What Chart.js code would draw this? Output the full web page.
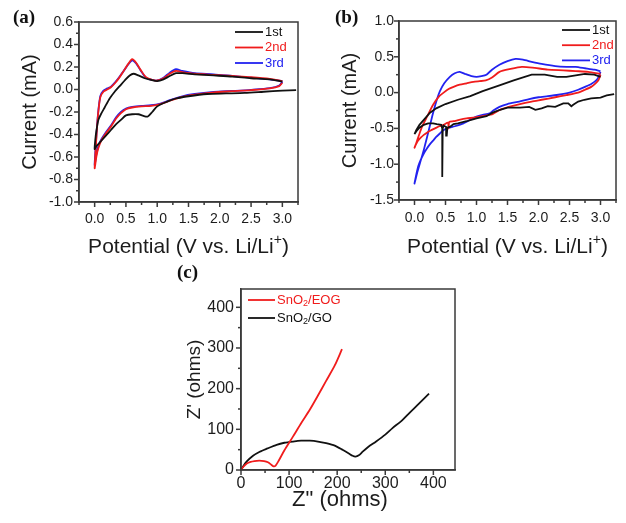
<!DOCTYPE html>
<html><head><meta charset="utf-8">
<script src="https://cdn.jsdelivr.net/npm/chart.js@4.4.1/dist/chart.umd.min.js"></script>
<style>
html,body{margin:0;padding:0;background:#fff;width:626px;height:523px;overflow:hidden;position:relative;}
canvas{position:absolute;}
.lbl{position:absolute;font:bold 19px "Liberation Serif","Times New Roman",serif;color:#111;line-height:22px;}
</style></head><body>
<canvas id="ca" width="313" height="265" style="left:0;top:0"></canvas>
<canvas id="cb" width="313" height="265" style="left:313px;top:0"></canvas>
<canvas id="cc" width="310" height="265" style="left:160px;top:258px"></canvas>
<div class="lbl" style="left:13px;top:6px">(a)</div>
<div class="lbl" style="left:335px;top:6px">(b)</div>
<div class="lbl" style="left:177px;top:261px">(c)</div>
<script>
// ---------- Panel (a): CV curves, potential (V) and current (mA) ----------
const A_1ST_V = [3.22,3.0,2.7,2.4,2.1,1.8,1.5,1.3,1.15,1.0,0.92,0.85,0.78,0.7,0.6,0.5,0.42,0.34,0.26,0.18,0.1,0.05,0.02,0.0,0.01,0.03,0.06,0.1,0.16,0.24,0.32,0.4,0.48,0.56,0.62,0.7,0.8,0.9,1.0,1.1,1.2,1.3,1.4,1.6,1.9,2.2,2.5,2.8,3.0];
const A_1ST_I = [-0.005,-0.01,-0.02,-0.03,-0.035,-0.04,-0.06,-0.08,-0.11,-0.15,-0.2,-0.24,-0.235,-0.22,-0.22,-0.23,-0.27,-0.31,-0.36,-0.41,-0.46,-0.49,-0.51,-0.53,-0.45,-0.36,-0.27,-0.22,-0.16,-0.08,-0.02,0.03,0.08,0.125,0.14,0.125,0.1,0.085,0.075,0.09,0.12,0.145,0.145,0.135,0.125,0.115,0.1,0.09,0.07];
const A_2ND_V = [3.0,2.95,2.8,2.5,2.2,1.9,1.6,1.4,1.2,1.05,0.9,0.75,0.6,0.5,0.42,0.34,0.26,0.18,0.11,0.06,0.03,0.0,0.02,0.05,0.09,0.14,0.2,0.26,0.33,0.4,0.47,0.54,0.6,0.66,0.74,0.82,0.92,1.0,1.1,1.2,1.3,1.4,1.6,1.9,2.2,2.5,2.8,3.0];
const A_2ND_I = [0.06,0.03,0.01,-0.005,-0.015,-0.025,-0.045,-0.065,-0.10,-0.13,-0.145,-0.15,-0.16,-0.175,-0.21,-0.26,-0.33,-0.39,-0.45,-0.52,-0.59,-0.70,-0.50,-0.25,-0.07,-0.02,0.0,0.02,0.06,0.11,0.17,0.23,0.27,0.24,0.17,0.11,0.085,0.08,0.10,0.14,0.165,0.155,0.14,0.13,0.12,0.11,0.095,0.075];
const A_3RD_V = [3.0,2.95,2.8,2.5,2.2,1.9,1.6,1.4,1.2,1.05,0.9,0.75,0.6,0.5,0.42,0.34,0.26,0.18,0.11,0.06,0.03,0.0,0.02,0.05,0.09,0.14,0.2,0.26,0.33,0.4,0.47,0.54,0.6,0.66,0.74,0.82,0.92,1.0,1.1,1.2,1.3,1.4,1.6,1.9,2.2,2.5,2.8,3.0];
const A_3RD_I = [0.07,0.035,0.012,-0.003,-0.013,-0.022,-0.04,-0.06,-0.095,-0.125,-0.14,-0.145,-0.155,-0.17,-0.2,-0.25,-0.32,-0.38,-0.44,-0.5,-0.57,-0.67,-0.48,-0.24,-0.06,-0.01,0.01,0.025,0.065,0.115,0.17,0.225,0.26,0.235,0.165,0.105,0.085,0.08,0.105,0.15,0.18,0.165,0.145,0.135,0.12,0.105,0.09,0.075];

// ---------- Panel (b) ----------
const B_1ST_V = [3.22,3.1,3.0,2.85,2.74,2.64,2.56,2.53,2.48,2.4,2.27,2.15,2.05,1.95,1.85,1.7,1.5,1.38,1.26,1.16,1.0,0.84,0.7,0.63,0.57,0.53,0.52,0.51,0.47,0.455,0.45,0.445,0.43,0.36,0.3,0.22,0.15,0.08,0.03,0.0,0.03,0.08,0.15,0.25,0.35,0.5,0.7,0.9,1.1,1.37,1.6,1.89,2.1,2.3,2.45,2.6,2.75,2.9,3.0];
const B_1ST_I = [-0.02,-0.04,-0.07,-0.08,-0.1,-0.125,-0.17,-0.19,-0.15,-0.15,-0.2,-0.19,-0.22,-0.24,-0.2,-0.21,-0.21,-0.24,-0.28,-0.33,-0.36,-0.4,-0.43,-0.44,-0.48,-0.49,-0.6,-0.48,-0.46,-0.5,-1.18,-0.5,-0.45,-0.44,-0.43,-0.43,-0.45,-0.49,-0.54,-0.58,-0.52,-0.45,-0.38,-0.28,-0.22,-0.16,-0.1,-0.05,0.02,0.1,0.17,0.25,0.25,0.22,0.22,0.24,0.26,0.25,0.22];
const B_2ND_V = [3.0,2.97,2.92,2.85,2.75,2.64,2.45,2.27,2.05,1.89,1.7,1.52,1.38,1.26,1.15,1.05,0.95,0.84,0.72,0.63,0.56,0.55,0.54,0.47,0.4,0.33,0.26,0.2,0.15,0.1,0.05,0.02,0.0,0.03,0.07,0.12,0.2,0.3,0.4,0.47,0.55,0.63,0.73,0.84,0.95,1.05,1.15,1.25,1.37,1.55,1.73,1.9,2.15,2.4,2.6,2.8,3.0];
const B_2ND_I = [0.25,0.18,0.13,0.08,0.04,0.0,-0.035,-0.065,-0.1,-0.125,-0.16,-0.2,-0.24,-0.3,-0.32,-0.335,-0.35,-0.36,-0.38,-0.4,-0.41,-0.5,-0.42,-0.45,-0.47,-0.5,-0.53,-0.56,-0.59,-0.63,-0.68,-0.73,-0.77,-0.7,-0.6,-0.48,-0.34,-0.17,-0.05,0.0,0.05,0.08,0.11,0.13,0.15,0.16,0.17,0.21,0.29,0.33,0.36,0.35,0.32,0.31,0.3,0.29,0.26];
const B_3RD_V = [3.0,2.97,2.93,2.85,2.75,2.64,2.5,2.32,2.15,2.0,1.85,1.69,1.5,1.37,1.27,1.21,1.1,1.0,0.9,0.79,0.65,0.52,0.46,0.41,0.35,0.31,0.25,0.2,0.15,0.1,0.06,0.03,0.0,0.05,0.1,0.15,0.2,0.26,0.31,0.36,0.41,0.48,0.57,0.65,0.73,0.82,0.92,1.0,1.08,1.16,1.25,1.37,1.5,1.63,1.75,1.89,2.05,2.27,2.45,2.6,2.75,2.9,3.0];
const B_3RD_I = [0.29,0.22,0.17,0.12,0.08,0.04,0.0,-0.03,-0.05,-0.065,-0.09,-0.125,-0.16,-0.2,-0.25,-0.29,-0.31,-0.335,-0.38,-0.43,-0.47,-0.5,-0.53,-0.57,-0.62,-0.66,-0.72,-0.78,-0.85,-0.94,-1.03,-1.14,-1.27,-1.1,-0.95,-0.8,-0.63,-0.42,-0.25,-0.1,0.02,0.13,0.22,0.27,0.29,0.26,0.23,0.22,0.23,0.25,0.32,0.39,0.44,0.47,0.46,0.43,0.4,0.37,0.36,0.36,0.34,0.32,0.3];

// ---------- Panel (c): Nyquist plots (ohms) ----------
const C_EOG_X = [0,5,12,20,28,38,48,56,63,68,72,78,90,108,125,143,160,177,195,210];
const C_EOG_Y = [0,8,16,20,22,23,22,19,13,9,11,22,48,82,115,148,183,219,257,297];
const C_GO_X = [0,5,12,25,39,55,74,90,108,125,143,160,177,195,212,225,232,238,245,253,265,281,300,315,335,350,370,391];
const C_GO_Y = [0,10,21,35,45,53,62,67,70,72,72,70,66,60,49,40,35,33,36,45,57,70,87,103,122,140,163,188];

const CYCLE_LABELS = ['1st','2nd','3rd'];
const EIS_LABELS = ['SnO₂/EOG','SnO₂/GO'];

const FONT = '"Liberation Sans", Arial, sans-serif';
const TXT = '#1c1c1c';
const AX = '#3a3a3a';
const C_BLACK = '#111111', C_RED = '#f01c1c', C_BLUE = '#2222f0';

function isMult(v, s) { const r = v / s; return Math.abs(r - Math.round(r)) < 1e-6; }
function pts(xs, ys) { return xs.map((x, i) => ({x: x, y: ys[i]})); }

function drawRich(ctx, str, x, y, size, color, align) {
  const segs = [];
  for (const ch of str) {
    if (ch === '⁺') segs.push({t:'+', k:'sup'});
    else if (ch === '₂') segs.push({t:'2', k:'sub'});
    else {
      const last = segs[segs.length - 1];
      if (last && last.k === 'n') last.t += ch; else segs.push({t: ch, k: 'n'});
    }
  }
  const small = Math.round(size * 0.68);
  let w = 0;
  segs.forEach(s => { ctx.font = (s.k === 'n' ? size : small) + 'px ' + FONT; s.w = ctx.measureText(s.t).width; w += s.w; });
  let cx = align === 'center' ? x - w / 2 : x;
  ctx.fillStyle = color; ctx.textAlign = 'left'; ctx.textBaseline = 'middle';
  segs.forEach(s => {
    const dy = s.k === 'sup' ? -size * 0.35 : (s.k === 'sub' ? size * 0.25 : 0);
    ctx.font = (s.k === 'n' ? size : small) + 'px ' + FONT;
    ctx.fillText(s.t, cx, y + dy);
    cx += s.w;
  });
}

const decor = {
  id: 'decor',
  afterDatasetsDraw(chart, args, o) {
    const ctx = chart.ctx, a = chart.chartArea;
    ctx.save();
    ctx.strokeStyle = AX; ctx.lineWidth = 1.5;
    ctx.strokeRect(a.left, a.top, a.right - a.left, a.bottom - a.top);
    ['x', 'y'].forEach(id => {
      const sc = chart.scales[id], c = o[id];
      sc.ticks.forEach(t => {
        if (!isMult(t.value, c.minor)) return;
        const len = isMult(t.value, c.major) ? 5 : 3;
        const p = sc.getPixelForValue(t.value);
        ctx.beginPath();
        if (id === 'x') { ctx.moveTo(p, a.bottom); ctx.lineTo(p, a.bottom + len); }
        else { ctx.moveTo(a.left, p); ctx.lineTo(a.left - len, p); }
        ctx.stroke();
      });
    });
    const L = o.legend;
    chart.data.datasets.forEach((ds, i) => {
      const y = L.y + i * L.dy;
      ctx.strokeStyle = ds.borderColor; ctx.lineWidth = 1.8;
      ctx.beginPath(); ctx.moveTo(L.x, y); ctx.lineTo(L.x + L.len, y); ctx.stroke();
      drawRich(ctx, ds.label, L.x + L.len + 2, y, L.size, ds.borderColor, 'left');
    });
    if (o.xTitle) drawRich(ctx, o.xTitle.text, (a.left + a.right) / 2 + (o.xTitle.dx || 0), o.xTitle.y, o.xTitle.size, TXT, 'center');
    ctx.restore();
  }
};

function axis(c, id) {
  return {
    type: 'linear', position: id === 'x' ? 'bottom' : 'left', min: c.min, max: c.max,
    bounds: 'data',
    grid: {drawOnChartArea: false, drawTicks: false},
    border: {display: true, color: AX, width: 1.5},
    ticks: {stepSize: c.minor, includeBounds: false, autoSkip: false, maxRotation: 0, minRotation: 0, padding: c.pad, color: TXT,
      font: {family: FONT, size: c.fs},
      callback: v => isMult(v, c.major) ? Number(v).toFixed(c.dec) : ''},
    title: c.title ? {display: true, text: c.title, color: TXT, font: {family: FONT, size: c.tfs}, padding: c.tpad} : {display: false},
    afterFit: s => { if (id === 'x') s.height = c.size; else s.width = c.size; }
  };
}

function makeChart(id, cfg) {
  return new Chart(document.getElementById(id), {
    type: 'scatter',
    data: {datasets: cfg.datasets.map(d => ({
      label: d.label, data: d.data, borderColor: d.color, backgroundColor: d.color,
      showLine: true, pointRadius: 0, borderWidth: 1.8, tension: d.tension, fill: false
    }))},
    options: {
      responsive: false, animation: false, devicePixelRatio: 1,
      layout: {padding: cfg.padding},
      plugins: {legend: {display: false}, tooltip: {enabled: false}, decor: cfg.decor},
      scales: {x: axis(cfg.x, 'x'), y: axis(cfg.y, 'y')}
    },
    plugins: [decor]
  });
}

const XA = {min: -0.25, max: 3.25, minor: 0.25, major: 0.5, dec: 1, fs: 14};

makeChart('ca', {
  padding: {top: 22, right: 15, left: 0, bottom: 0},
  datasets: [
    {label: CYCLE_LABELS[0], data: pts(A_1ST_V, A_1ST_I), color: C_BLACK, tension: 0.25},
    {label: CYCLE_LABELS[1], data: pts(A_2ND_V, A_2ND_I), color: C_RED, tension: 0.25},
    {label: CYCLE_LABELS[2], data: pts(A_3RD_V, A_3RD_I), color: C_BLUE, tension: 0.25}
  ],
  x: Object.assign({}, XA, {pad: 9, size: 63}),
  y: {min: -1.0, max: 0.6, minor: 0.1, major: 0.2, dec: 1, fs: 14, pad: 6, size: 79,
      title: 'Current (mA)', tfs: 20, tpad: {top: 18, bottom: 0}},
  decor: {x: {minor: 0.25, major: 0.5}, y: {minor: 0.1, major: 0.2},
          legend: {x: 235, y: 32, dy: 15.5, len: 28, size: 13},
          xTitle: {text: 'Potential (V vs. Li/Li⁺)', y: 247, size: 21}}
});

makeChart('cb', {
  padding: {top: 21, right: 8, left: 0, bottom: 0},
  datasets: [
    {label: CYCLE_LABELS[0], data: pts(B_1ST_V, B_1ST_I), color: C_BLACK, tension: 0},
    {label: CYCLE_LABELS[1], data: pts(B_2ND_V, B_2ND_I), color: C_RED, tension: 0.2},
    {label: CYCLE_LABELS[2], data: pts(B_3RD_V, B_3RD_I), color: C_BLUE, tension: 0.2}
  ],
  x: Object.assign({}, XA, {pad: 10, size: 65}),
  y: {min: -1.5, max: 1.0, minor: 0.25, major: 0.5, dec: 1, fs: 14, pad: 5, size: 86,
      title: 'Current (mA)', tfs: 20, tpad: {top: 25, bottom: 0}},
  decor: {x: {minor: 0.25, major: 0.5}, y: {minor: 0.25, major: 0.5},
          legend: {x: 249, y: 30, dy: 15.2, len: 28, size: 13},
          xTitle: {text: 'Potential (V vs. Li/Li⁺)', y: 247, size: 21}}
});

makeChart('cc', {
  padding: {top: 31, right: 15, left: 0, bottom: 0},
  datasets: [
    {label: EIS_LABELS[0], data: pts(C_EOG_X, C_EOG_Y), color: C_RED, tension: 0.25},
    {label: EIS_LABELS[1], data: pts(C_GO_X, C_GO_Y), color: C_BLACK, tension: 0.25}
  ],
  x: {min: 0, max: 445, minor: 50, major: 100, dec: 0, fs: 16, pad: 3.5, size: 53},
  y: {min: 0, max: 445, minor: 50, major: 100, dec: 0, fs: 16, pad: 7, size: 81,
      title: "Z' (ohms)", tfs: 19, tpad: {top: 23, bottom: 0}},
  decor: {x: {minor: 50, major: 100}, y: {minor: 50, major: 100},
          legend: {x: 88, y: 42, dy: 18, len: 27, size: 13},
          xTitle: {text: 'Z" (ohms)', y: 242, size: 22, dx: -8}}
});
</script>
</body></html>
